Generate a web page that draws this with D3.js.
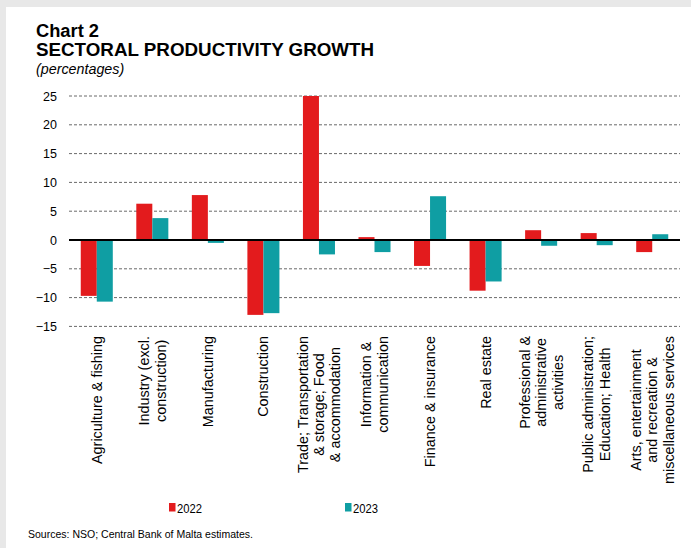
<!DOCTYPE html>
<html>
<head>
<meta charset="utf-8">
<script src="https://cdn.jsdelivr.net/npm/d3@7"></script>
<style>
  html, body { margin: 0; padding: 0; background: #e8e8e8; }
  svg { display: block; }
  text { font-family: "Liberation Sans", Arial, sans-serif; }
</style>
</head>
<body>
<svg id="chart" width="691" height="548"></svg>
<script>
const categories = [
  ["Agriculture & fishing"],
  ["Industry (excl.", "construction)"],
  ["Manufacturing"],
  ["Construction"],
  ["Trade; Transportation", "& storage; Food", "& accommodation"],
  ["Information &", "communication"],
  ["Finance & insurance"],
  ["Real estate"],
  ["Professional &", "administrative", "activities"],
  ["Public administration;", "Education; Health"],
  ["Arts, entertainment", "and recreation &", "miscellaneous services"]
];
const seriesNames = ["2022", "2023"];
const values2022 = [-9.7, 6.3, 7.8, -13.0, 25.0, 0.5, -4.5, -8.8, 1.7, 1.2, -2.1];
const values2023 = [-10.7, 3.8, -0.5, -12.7, -2.5, -2.1, 7.6, -7.2, -1.0, -0.9, 1.0];
const yTicks = [-15, -10, -5, 0, 5, 10, 15, 20, 25];
const colors = ["#e31b1d", "#0f9ea3"];

const svg = d3.select("#chart");
// white panel
svg.append("rect").attr("x", 6).attr("y", 7).attr("width", 685).attr("height", 541).attr("fill", "#ffffff");

// titles
svg.append("text").attr("x", 36).attr("y", 37).attr("font-size", 18.3).attr("font-weight", "bold").attr("fill", "#000").text("Chart 2");
svg.append("text").attr("x", 36).attr("y", 56).attr("font-size", 18.8).attr("font-weight", "bold").attr("fill", "#000").text("SECTORAL PRODUCTIVITY GROWTH");
svg.append("text").attr("x", 36).attr("y", 74).attr("font-size", 14.3).attr("font-style", "italic").attr("fill", "#000").text("(percentages)");

const x0 = d3.scaleBand().domain(d3.range(categories.length)).range([69, 680]).paddingInner(0).paddingOuter(0);
const x1 = d3.scaleBand().domain(seriesNames).range([0, x0.bandwidth()]).paddingInner(0).paddingOuter(0.734);
const y = d3.scaleLinear().domain([-15, 25]).range([326.4, 96]);

// gridlines
svg.append("g").selectAll("line").data(yTicks.filter(d => d !== 0)).join("line")
  .attr("x1", 69).attr("x2", 680)
  .attr("y1", d => y(d)).attr("y2", d => y(d))
  .attr("stroke", "#6a6a6a").attr("stroke-width", 1).attr("stroke-dasharray", "3,2");

// y axis labels
const yAxis = d3.axisLeft(y).tickValues(yTicks).tickSize(0).tickPadding(0).tickFormat(d3.format("d"));
const yg = svg.append("g").attr("transform", "translate(57,0)").call(yAxis);
yg.select(".domain").remove();
yg.selectAll("text").attr("font-size", 12.5).attr("fill", "#000").attr("font-family", "Liberation Sans, Arial, sans-serif");

// bars
const data = categories.map((c, i) => ({i, vals: [values2022[i], values2023[i]]}));
const groups = svg.append("g").selectAll("g").data(data).join("g")
  .attr("transform", d => `translate(${x0(d.i)},0)`);
groups.selectAll("rect").data(d => d.vals.map((v, k) => ({v, k}))).join("rect")
  .attr("x", d => x1(seriesNames[d.k]))
  .attr("width", x1.bandwidth())
  .attr("y", d => y(Math.max(0, d.v)))
  .attr("height", d => Math.abs(y(d.v) - y(0)))
  .attr("fill", d => colors[d.k]);

// zero line
svg.append("line").attr("x1", 69).attr("x2", 680).attr("y1", y(0)).attr("y2", y(0))
  .attr("stroke", "#000").attr("stroke-width", 1.8);

// category labels (rotated)
const lh = 16.5;
const lab = svg.append("g").selectAll("g").data(categories).join("g")
  .attr("transform", (d, i) => `translate(${x0(i) + x0.bandwidth() / 2},336) rotate(-90)`);
lab.each(function(lines) {
  const g = d3.select(this);
  const texts = g.selectAll("text").data(lines).join("text")
    .attr("font-size", 14.4).attr("fill", "#000")
    .attr("text-anchor", "middle")
    .attr("dy", "0.35em")
    .attr("y", (d, j) => (j - (lines.length - 1) / 2) * lh)
    .text(d => d);
  let maxL = 0;
  texts.each(function() { maxL = Math.max(maxL, this.getComputedTextLength()); });
  texts.attr("x", -maxL / 2);
});

// legend
const legX = [169, 345];
seriesNames.forEach((s, k) => {
  svg.append("rect").attr("x", legX[k]).attr("y", 503).attr("width", 6.5).attr("height", 8.5).attr("fill", colors[k]);
  svg.append("text").attr("x", legX[k] + 8).attr("y", 512.5).attr("font-size", 13).attr("fill", "#000")
    .attr("textLength", 25).attr("lengthAdjust", "spacingAndGlyphs").text(s);
});

// source
svg.append("text").attr("x", 28).attr("y", 537.5).attr("font-size", 11.8).attr("fill", "#000")
  .attr("textLength", 225).attr("lengthAdjust", "spacingAndGlyphs")
  .text("Sources: NSO; Central Bank of Malta estimates.");
</script>
</body>
</html>
